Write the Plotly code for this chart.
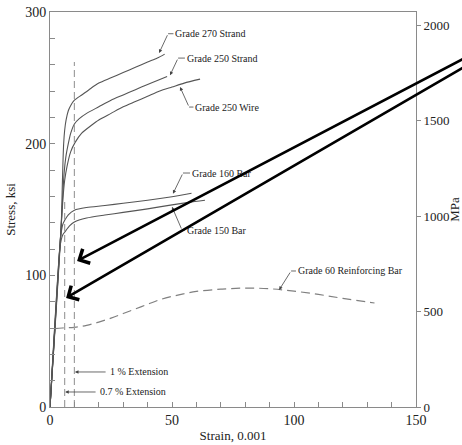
import plotly.graph_objects as go

# ---------------- data ----------------
strand270_x = [0, 4.6, 5.0, 5.3, 5.6, 6.0, 6.6, 7.5, 8.5, 10, 13, 16, 20, 25, 30, 35, 40, 44, 47]
strand270_y = [0, 138, 165, 185, 200, 210, 218, 225, 229, 233, 237, 241, 246, 250, 254, 258, 262, 265, 268]

strand250_x = [0, 4.6, 5.2, 5.8, 6.5, 7.5, 8.5, 10, 12, 15, 20, 25, 30, 35, 40, 44, 48]
strand250_y = [0, 138, 160, 178, 190, 200, 208, 215, 219, 223, 228, 233, 237, 241, 245, 248, 251]

wire250_x = [0, 4.6, 5.3, 6.0, 7.0, 8.5, 10.3, 13, 17, 20, 25, 30, 35, 40, 45, 50, 55, 61.5]
wire250_y = [0, 138, 158, 172, 183, 194, 201, 208, 214, 218, 223, 228, 232, 236, 240, 243, 246, 249]

bar160_x = [0, 4.2, 4.7, 5.3, 6.1, 7.5, 10, 15, 22.5, 30, 40, 50, 58]
bar160_y = [0, 126, 134, 139, 142, 146, 149.5, 151.5, 153, 154.8, 157, 159.7, 162.3]

bar150_x = [0, 4.0, 4.6, 5.3, 6.1, 8, 10, 15, 22.5, 30, 40, 50, 57, 63.5]
bar150_y = [0, 120, 127, 131, 133, 137.5, 140.5, 143.5, 145.8, 147.8, 150.5, 153.5, 155.5, 157]

rebar60_elastic_x = [0, 2.0]
rebar60_elastic_y = [0, 59.5]
rebar60_x = [2.0, 5, 10, 15, 20, 25, 30, 35, 40, 45, 50, 55, 60, 70, 80, 90, 100, 110, 120, 133]
rebar60_y = [59.5, 60, 60.5, 62, 64.5, 67.5, 71, 74.5, 78, 81.5, 84, 86, 87.8, 89.5, 90.3, 89.8, 88, 85.5, 82.5, 79]

ext07_x = [6.0, 6.0]
ext07_y = [0, 157]
ext10_x = [10.0, 10.0]
ext10_y = [0, 262]

KSI_TO_MPA = 6.895
x_ticks = [0, 50, 100, 150]
y_ticks = [0, 100, 200, 300]
y2_ticks = [0, 500, 1000, 1500, 2000]

FONT = "Liberation Serif"
CURVE = "#555555"
AXC = "#8a8a8a"

fig = go.Figure()

for xs, ys in [(strand270_x, strand270_y), (strand250_x, strand250_y),
               (wire250_x, wire250_y), (bar160_x, bar160_y),
               (bar150_x, bar150_y), (rebar60_elastic_x, rebar60_elastic_y)]:
    fig.add_trace(go.Scatter(x=xs, y=ys, mode="lines",
                             line=dict(color=CURVE, width=1.1, shape="spline", smoothing=0.7),
                             showlegend=False, hoverinfo="skip"))

fig.add_trace(go.Scatter(x=rebar60_x, y=rebar60_y, mode="lines",
                         line=dict(color="#808080", width=1.2, dash="9px,5px", shape="spline"),
                         showlegend=False, hoverinfo="skip"))
for xs, ys in [(ext07_x, ext07_y), (ext10_x, ext10_y)]:
    fig.add_trace(go.Scatter(x=xs, y=ys, mode="lines",
                             line=dict(color="#a0a0a0", width=1.2, dash="7px,4px"),
                             showlegend=False, hoverinfo="skip"))

# dummy trace for MPa axis
fig.add_trace(go.Scatter(x=[0], y=[0], yaxis="y2", mode="lines", showlegend=False,
                         hoverinfo="skip", line=dict(width=0)))

# ---------------- labels with leaders ----------------
# (text, text_x, text_y, tip_x, tip_y, kink_x)
labels = [
    ("Grade 270 Strand", 50.6, 283.5, 44.7, 268.8, 48.4),
    ("Grade 250 Strand", 55.3, 265.0, 49.2, 252.0, 52.5),
    ("Grade 250 Wire", 58.8, 227.8, 53.3, 243.0, 57.0),
    ("Grade 160 Bar", 57.4, 177.7, 50.4, 162.0, 54.5),
    ("Grade 150 Bar", 55.3, 134.4, 50.0, 152.0, 54.1),
    ("Grade 60 Reinforcing Bar", 100.8, 103.3, 93.9, 88.9, 98.8),
]
annotations = []
shapes = []
for txt, tx, ty, px, py, kx in labels:
    annotations.append(dict(x=tx, y=ty, xref="x", yref="y", text=txt, showarrow=False,
                            xanchor="left", yanchor="middle",
                            font=dict(family=FONT, size=10, color="#222")))
    shapes.append(dict(type="line", xref="x", yref="y", x0=kx, y0=ty, x1=tx, y1=ty,
                       line=dict(color="#444", width=0.8)))
    annotations.append(dict(x=px, y=py, ax=kx, ay=ty, xref="x", yref="y", axref="x", ayref="y",
                            text="", showarrow=True, arrowhead=2, arrowsize=0.9,
                            arrowwidth=0.8, arrowcolor="#444"))

ext_labels = [
    ("1 % Extension", 23.8, 26.6, 10.2),
    ("0.7 % Extension", 19.7, 11.4, 6.2),
]
for txt, tx, ty, px in ext_labels:
    annotations.append(dict(x=tx, y=ty, xref="x", yref="y", text=txt, showarrow=False,
                            xanchor="left", yanchor="middle",
                            font=dict(family=FONT, size=10, color="#222")))
    annotations.append(dict(x=px, y=ty, ax=tx - 0.4, ay=ty, xref="x", yref="y", axref="x",
                            ayref="y", text="", showarrow=True, arrowhead=2, arrowsize=0.9,
                            arrowwidth=0.8, arrowcolor="#444"))

# big black arrows
big_arrows = [
    (11.1, 110.9, 170.0, 265.0),
    (6.6, 82.8, 170.0, 258.5),
]
for px, py, tx, ty in big_arrows:
    annotations.append(dict(x=px, y=py, ax=tx, ay=ty, xref="x", yref="y", axref="x", ayref="y",
                            text="", showarrow=True, arrowhead=4, arrowsize=1.2,
                            arrowwidth=2.6, arrowcolor="black"))

fig.update_layout(
    width=462, height=445,
    margin=dict(l=50, r=46, t=12, b=38, autoexpand=False),
    paper_bgcolor="white", plot_bgcolor="white",
    font=dict(family=FONT, size=13, color="#222"),
    showlegend=False,
    annotations=annotations,
    shapes=shapes,
    xaxis=dict(range=[0, 150], tickvals=x_ticks, ticks="inside", ticklen=5, tickcolor=AXC,
               showline=True, linecolor=AXC, linewidth=1, mirror=True, showgrid=False,
               zeroline=False, tickfont=dict(family=FONT, size=14), automargin=False,
               minor=dict(dtick=10, ticks="inside", ticklen=5, tickcolor=AXC, showgrid=False),
               title=dict(text="Strain, 0.001", font=dict(family=FONT, size=13), standoff=4)),
    yaxis=dict(range=[0, 300], tickvals=y_ticks, ticks="inside", ticklen=5, tickcolor=AXC,
               showline=True, linecolor=AXC, linewidth=1, showgrid=False, zeroline=False,
               tickfont=dict(family=FONT, size=14), automargin=False,
               minor=dict(dtick=20, ticks="inside", ticklen=5, tickcolor=AXC, showgrid=False),
               title=dict(text="Stress, ksi", font=dict(family=FONT, size=13), standoff=6)),
    yaxis2=dict(range=[0, 300 * KSI_TO_MPA], tickvals=y2_ticks, overlaying="y", side="right",
                ticks="outside", ticklen=4, tickcolor=AXC, showline=True, linecolor=AXC,
                linewidth=1, showgrid=False, zeroline=False, automargin=False,
                tickfont=dict(family=FONT, size=13),
                title=dict(text="MPa", font=dict(family=FONT, size=13), standoff=4)),
)

fig.write_html("out.html", config={"displayModeBar": False},
               post_script="document.body.style.margin='0px';")
